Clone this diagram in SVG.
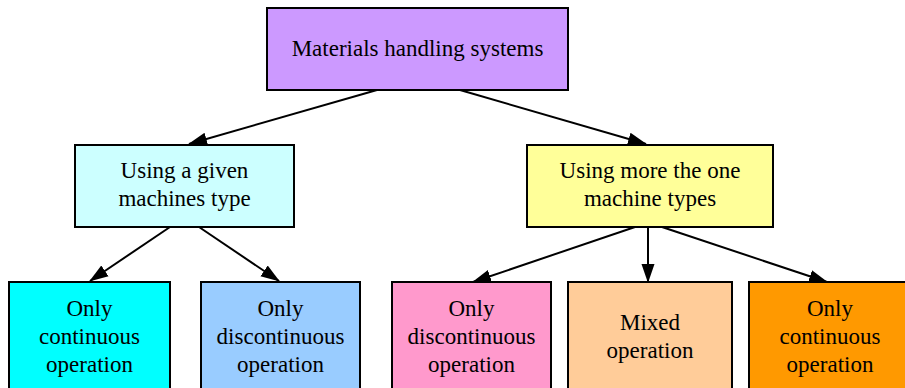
<svg xmlns="http://www.w3.org/2000/svg" width="905" height="388" viewBox="0 0 905 388">
<defs>
<style>
.box{stroke:#000;stroke-width:2}
text{font-family:"Liberation Serif","Times New Roman",serif;font-size:23px;fill:#000;text-anchor:middle}
.edge{stroke:#000;stroke-width:2;fill:none}
</style>
<marker id="arr" markerWidth="19" markerHeight="14" refX="18" refY="7" orient="auto" markerUnits="userSpaceOnUse">
<path d="M0,0.5 L19,7 L0,13.5 Z" fill="#000"/>
</marker>
</defs>
<rect width="905" height="388" fill="#fff"/>
<g id="edges">
<line class="edge" x1="377" y1="90" x2="189" y2="144" marker-end="url(#arr)"/>
<line class="edge" x1="460" y1="90" x2="646" y2="144" marker-end="url(#arr)"/>
<line class="edge" x1="170" y1="227" x2="90" y2="281" marker-end="url(#arr)"/>
<line class="edge" x1="199" y1="227" x2="279" y2="281" marker-end="url(#arr)"/>
<line class="edge" x1="635" y1="227" x2="473" y2="282" marker-end="url(#arr)"/>
<line class="edge" x1="648" y1="227" x2="648" y2="282" marker-end="url(#arr)"/>
<line class="edge" x1="662" y1="227" x2="827" y2="282" marker-end="url(#arr)"/>
</g>
<g id="root">
<rect class="box" x="267" y="8" width="301" height="82" fill="#cc99ff"/>
<text x="417.5" y="56">Materials handling systems</text>
</g>
<g id="given">
<rect class="box" x="75" y="145" width="219" height="82" fill="#ccffff"/>
<text x="184.5" y="178">Using a given</text>
<text x="184.5" y="206">machines type</text>
</g>
<g id="more">
<rect class="box" x="527" y="145" width="246" height="82" fill="#ffff99"/>
<text x="650" y="178">Using more the one</text>
<text x="650" y="206">machine types</text>
</g>
<g id="g-cont">
<rect class="box" x="9" y="282" width="161" height="120" fill="#00ffff"/>
<text x="89.5" y="316">Only</text>
<text x="89.5" y="344">continuous</text>
<text x="89.5" y="372">operation</text>
</g>
<g id="g-disc">
<rect class="box" x="201" y="282" width="159" height="120" fill="#99ccff"/>
<text x="280.5" y="316">Only</text>
<text x="280.5" y="344">discontinuous</text>
<text x="280.5" y="372">operation</text>
</g>
<g id="m-disc">
<rect class="box" x="392" y="282" width="159" height="120" fill="#ff99cc"/>
<text x="471.5" y="316">Only</text>
<text x="471.5" y="344">discontinuous</text>
<text x="471.5" y="372">operation</text>
</g>
<g id="m-mixed">
<rect class="box" x="568" y="282" width="164" height="120" fill="#ffcc99"/>
<text x="650" y="330">Mixed</text>
<text x="650" y="358">operation</text>
</g>
<g id="m-cont">
<rect class="box" x="749" y="282" width="165" height="120" fill="#ff9900"/>
<text x="830" y="316">Only</text>
<text x="830" y="344">continuous</text>
<text x="830" y="372">operation</text>
</g>
</svg>
